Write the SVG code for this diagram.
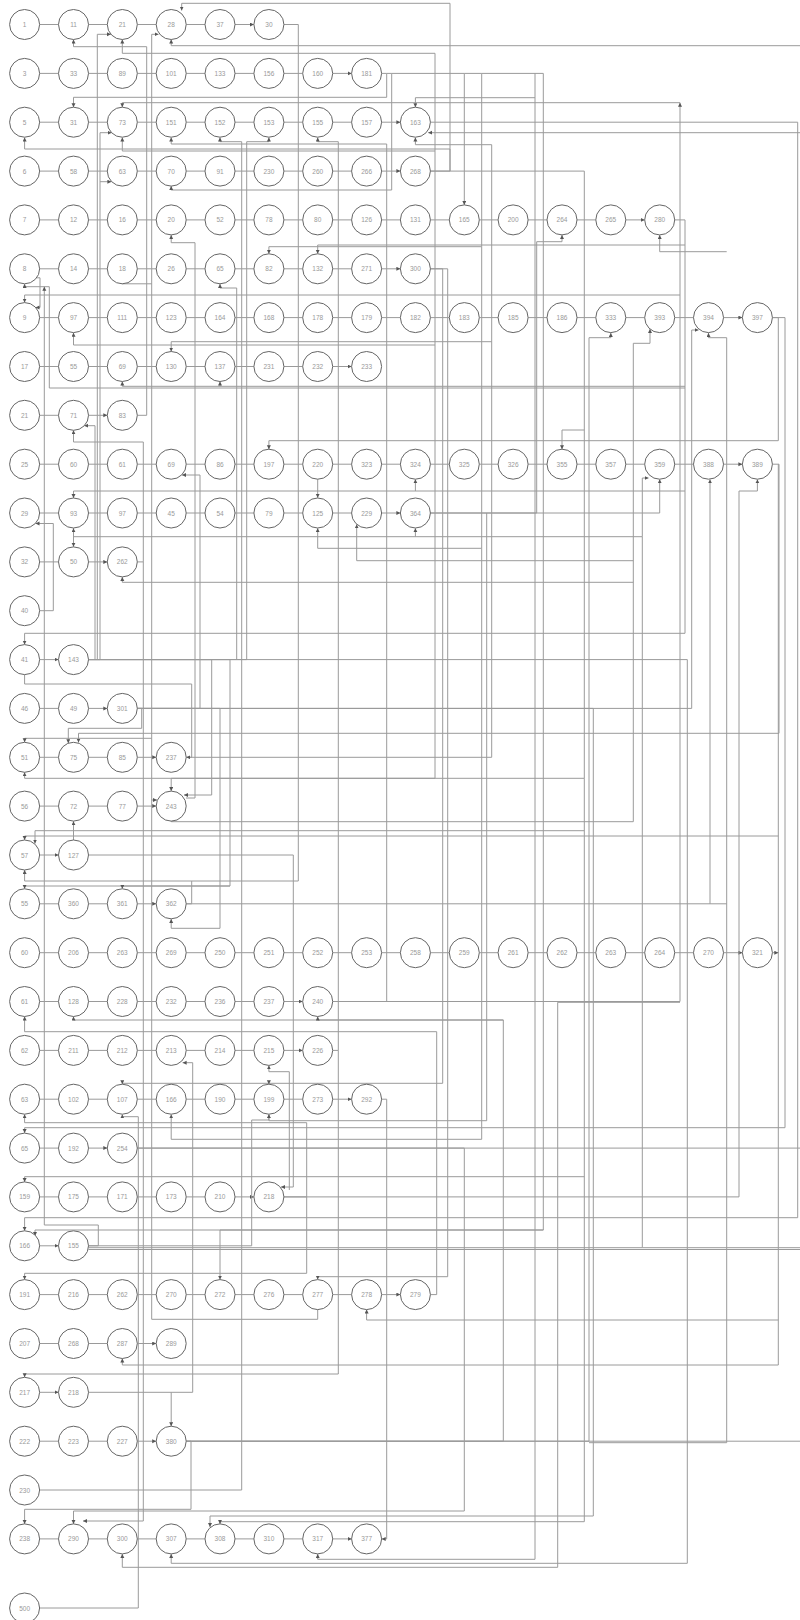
<svg xmlns="http://www.w3.org/2000/svg" width="800" height="1620" viewBox="0 0 800 1620">
<style>
.n circle{fill:#fff;stroke:#666;stroke-width:1}
.n text{font-family:"Liberation Sans",Arial,sans-serif;font-size:6.5px;fill:#999;text-anchor:middle;dominant-baseline:central}
.e path{fill:none;stroke:#9a9a9a;stroke-width:1;marker-end:url(#a)}
.e path.l{marker-end:none}
</style>
<defs><marker id="a" markerWidth="5" markerHeight="5" refX="4" refY="2" orient="auto" markerUnits="userSpaceOnUse"><path d="M0,0 L4,2 L0,4 z" fill="#555"/></marker></defs>
<rect width="800" height="1620" fill="#fff"/>
<g class="e" id="connectors">
<path d="M39.6,24.5H58.5M88.5,24.5H107.3M137.3,24.5H156.2M186.2,24.5H205M235,24.5H253.9"/>
<path d="M39.6,73.4H58.5M88.5,73.4H107.3M137.3,73.4H156.2M186.2,73.4H205M235,73.4H253.9M283.9,73.4H302.7M332.7,73.4H351.6"/>
<path d="M39.6,122.2H58.5M88.5,122.2H107.3M137.3,122.2H156.2M186.2,122.2H205M235,122.2H253.9M283.9,122.2H302.7M332.7,122.2H351.6M381.6,122.2H400.4"/>
<path d="M39.6,171.1H58.5M88.5,171.1H107.3M137.3,171.1H156.2M186.2,171.1H205M235,171.1H253.9M283.9,171.1H302.7M332.7,171.1H351.6M381.6,171.1H400.4"/>
<path d="M39.6,219.9H58.5M88.5,219.9H107.3M137.3,219.9H156.2M186.2,219.9H205M235,219.9H253.9M283.9,219.9H302.7M332.7,219.9H351.6M381.6,219.9H400.4M430.4,219.9H449.3M479.3,219.9H498.1M528.1,219.9H547M577,219.9H595.8M625.8,219.9H644.7"/>
<path d="M39.6,268.8H58.5M88.5,268.8H107.3M137.3,268.8H156.2M186.2,268.8H205M235,268.8H253.9M283.9,268.8H302.7M332.7,268.8H351.6M381.6,268.8H400.4"/>
<path d="M39.6,317.6H58.5M88.5,317.6H107.3M137.3,317.6H156.2M186.2,317.6H205M235,317.6H253.9M283.9,317.6H302.7M332.7,317.6H351.6M381.6,317.6H400.4M430.4,317.6H449.3M479.3,317.6H498.1M528.1,317.6H547M577,317.6H595.8M625.8,317.6H644.7M674.7,317.6H693.5M723.5,317.6H742.4"/>
<path d="M39.6,366.5H58.5M88.5,366.5H107.3M137.3,366.5H156.2M186.2,366.5H205M235,366.5H253.9M283.9,366.5H302.7M332.7,366.5H351.6"/>
<path d="M39.6,415.3H58.5M88.5,415.3H107.3"/>
<path d="M39.6,464.2H58.5M88.5,464.2H107.3M137.3,464.2H156.2M186.2,464.2H205M235,464.2H253.9M283.9,464.2H302.7M332.7,464.2H351.6M381.6,464.2H400.4M430.4,464.2H449.3M479.3,464.2H498.1M528.1,464.2H547M577,464.2H595.8M625.8,464.2H644.7M674.7,464.2H693.5M723.5,464.2H742.4"/>
<path d="M39.6,513H58.5M88.5,513H107.3M137.3,513H156.2M186.2,513H205M235,513H253.9M283.9,513H302.7M332.7,513H351.6M381.6,513H400.4"/>
<path d="M39.6,561.9H58.5M88.5,561.9H107.3"/>
<path d="M39.6,659.6H58.5"/>
<path d="M39.6,708.4H58.5M88.5,708.4H107.3"/>
<path d="M39.6,757.3H58.5M88.5,757.3H107.3M137.3,757.3H156.2"/>
<path d="M39.6,806.1H58.5M88.5,806.1H107.3M137.3,806.1H156.2"/>
<path d="M39.6,855H58.5"/>
<path d="M39.6,903.8H58.5M88.5,903.8H107.3M137.3,903.8H156.2"/>
<path d="M39.6,952.7H58.5M88.5,952.7H107.3M137.3,952.7H156.2M186.2,952.7H205M235,952.7H253.9M283.9,952.7H302.7M332.7,952.7H351.6M381.6,952.7H400.4M430.4,952.7H449.3M479.3,952.7H498.1M528.1,952.7H547M577,952.7H595.8M625.8,952.7H644.7M674.7,952.7H693.5M723.5,952.7H742.4"/>
<path d="M39.6,1001.5H58.5M88.5,1001.5H107.3M137.3,1001.5H156.2M186.2,1001.5H205M235,1001.5H253.9M283.9,1001.5H302.7"/>
<path d="M39.6,1050.4H58.5M88.5,1050.4H107.3M137.3,1050.4H156.2M186.2,1050.4H205M235,1050.4H253.9M283.9,1050.4H302.7"/>
<path d="M39.6,1099.2H58.5M88.5,1099.2H107.3M137.3,1099.2H156.2M186.2,1099.2H205M235,1099.2H253.9M283.9,1099.2H302.7M332.7,1099.2H351.6"/>
<path d="M39.6,1148.1H58.5M88.5,1148.1H107.3"/>
<path d="M39.6,1196.9H58.5M88.5,1196.9H107.3M137.3,1196.9H156.2M186.2,1196.9H205M235,1196.9H253.9"/>
<path d="M39.6,1245.8H58.5"/>
<path d="M39.6,1294.6H58.5M88.5,1294.6H107.3M137.3,1294.6H156.2M186.2,1294.6H205M235,1294.6H253.9M283.9,1294.6H302.7M332.7,1294.6H351.6M381.6,1294.6H400.4"/>
<path d="M39.6,1343.5H58.5M88.5,1343.5H107.3M137.3,1343.5H156.2"/>
<path d="M39.6,1392.3H58.5"/>
<path d="M39.6,1441.2H58.5M88.5,1441.2H107.3M137.3,1441.2H156.2"/>
<path d="M39.6,1538.9H58.5M88.5,1538.9H107.3M137.3,1538.9H156.2M186.2,1538.9H205M235,1538.9H253.9M283.9,1538.9H302.7M332.7,1538.9H351.6"/>
<path d="M430.4,171.1H450V3.3H181.7V10.5"/>
<path d="M450,171.1V149H24.6V137.5"/>
<path d="M283.9,24.5H298.3V881H24.6V870"/>
<path class="l" d="M186.2,903.8H191.7V881"/>
<path d="M137.3,415.3H146.7V46.7H73.5V39.5"/>
<path d="M800,45.7H171.2V39.5"/>
<path d="M435,778.3V53.3H122.3V39.5"/>
<path d="M435,151H122.3V137.5"/>
<path d="M435,345H73.5V332.8"/>
<path d="M435,778.3H171.2V791.1"/>
<path d="M88.5,659.6H97.3V34.3H110.9"/>
<path d="M97.3,659.6H100V132.7H111.6"/>
<path d="M100,181.7H111.4"/>
<path d="M95,659.6V425.7H84.3"/>
<path d="M381.6,73.4H386.7V97.3H73.5V107.2"/>
<path d="M386.7,73.4H391.7V190H171.2V186.1"/>
<path d="M391.7,73.4H464.3V204.9"/>
<path d="M464.3,73.4H481.7V246.7H268.9V253.8"/>
<path d="M481.7,246.7V548.3H317.7V528.2"/>
<path d="M481.7,548.3V1139.3H171.2V1114.4"/>
<path d="M481.7,73.4H543.3V1230H220V1279.6"/>
<path d="M543.3,1230H35V1236"/>
<path d="M535,73.4V1559.3H317.7V1554"/>
<path d="M535,97.7H415.4V107.2"/>
<path d="M430.4,513H536.7V241.7H562V234.9"/>
<path d="M430.4,513H659.7V479.3"/>
<path d="M486.7,513V1120.7H268.9V1114.4"/>
<path d="M430.4,122.2H797.7V1217.7H24.6V1230.8"/>
<path d="M800,132.7H428.2"/>
<path d="M186.2,757.3H491.7V144.7H415.4V137.5"/>
<path d="M491.7,341.7H171.2V351.5"/>
<path d="M332.7,1001.5H386.7V144H171.2V137.5"/>
<path d="M39.6,1490H241.7V141.7H220V137.5"/>
<path d="M88.5,659.6H246.7V141.7H268.9V137.5"/>
<path d="M332.7,1050.4H338.3V141.7H317.7V137.5"/>
<path d="M338.3,1050.4V1374H24.6V1377.3"/>
<path d="M236.7,659.6V288H220V283.9"/>
<path d="M674.7,219.9H685V633.3H24.6V644.6"/>
<path d="M685,388H49.3V286.7H24.6V283.9"/>
<path d="M88.5,1245.8H98.3V1225H44.3V286.7"/>
<path d="M685,386.3H122.3V381.6"/>
<path d="M220,386.3V381.6"/>
<path d="M685,245H317.7V253.8"/>
<path d="M685,491H73.5V498"/>
<path d="M415.4,491V479.3"/>
<path d="M726.7,251.7H659.7V235"/>
<path d="M36.5,277.8H40V307.5H35.5"/>
<path d="M39.6,610.7H53.3V523.5H35.5"/>
<path d="M137.3,561.9H143.3V442H73.5V430.3"/>
<path d="M143.3,561.9V1521H83"/>
<path d="M137.3,708.4H141.7V728.3H68.3V743.2"/>
<path d="M137.3,708.4H200V475H182"/>
<path d="M772.4,464.2H779V733.3H78.5V742.5"/>
<path d="M151.7,738.3H24.6V742.3"/>
<path d="M151.7,800H157"/>
<path d="M186,798H195V242.7H171.2V235.1"/>
<path d="M88.5,659.6H211.7V795H184"/>
<path d="M430.4,171.1H584.3V778.3H24.6V772.3"/>
<path d="M584.3,430H562V449.2"/>
<path d="M584.3,830.7H35V843.5"/>
<path d="M24.6,674.6V684H191.7V757.3H186.3"/>
<path d="M171.2,821.1V821.7H633.3V343.3H650V329"/>
<path d="M633.3,582.3H122.3V577"/>
<path d="M633.3,560.7H356.7V524.4"/>
<path d="M186.2,1441.2H589V337.7H610.8V332.9"/>
<path d="M589,1442.7H726.7V337.7H708.5V332.9"/>
<path d="M137.3,708.4H691.7V330H698.5"/>
<path d="M772.4,317.6H778.3V440.7H268.9V449.2"/>
<path d="M772.4,317.6H785V1127.7H24.6V1133"/>
<path d="M778.3,464.2V1365H122.3V1358.5"/>
<path d="M778.3,1320H366.6V1309.6"/>
<path d="M778.3,836H24.6V840"/>
<path d="M772.4,952.7H778.3"/>
<path d="M381.6,1099.2H386.7V1538.9H381.7"/>
<path d="M186.2,903.8H710V479.4"/>
<path class="l" d="M710,903.8H726.7"/>
<path d="M317.7,479.2V497.8"/>
<path d="M73.5,528V546.8"/>
<path d="M88.5,1247.7H642.3V536.7H73.5V528.2"/>
<path d="M415.4,536.7V528.2"/>
<path d="M642.3,536.7V478H648.5"/>
<path class="l" d="M642.3,1247.7H800M88.5,1249.5H800"/>
<path d="M283.9,1196.9H739V491H757.4V479.4"/>
<path d="M88.5,855H293.3V1187H281"/>
<path d="M289.3,1190V1071.7H268.9V1065.4"/>
<path d="M88.5,659.6H230V886H24.6V888.8"/>
<path d="M230,886H122.3V888.8"/>
<path d="M137.3,708.4H220V928.3H171.2V918.9"/>
<path d="M73.5,840V821.2"/>
<path d="M283.9,1196.9H306.7V1122.7H24.6V1114.3"/>
<path d="M306.7,1196.9V1273.3H24.6V1279.6"/>
<path d="M430.4,268.8H442.7V1083.3H122.3V1084.2"/>
<path d="M268.9,1083.3V1084.2"/>
<path d="M430.4,268.8H447.7V1276.7H317.7V1279.6"/>
<path d="M39.6,1608H138.3V1116.7H122.3V1114.4"/>
<path d="M88.5,1245.8H251.7V1120H268.9V1114.4"/>
<path class="l" d="M137.3,1148.1H800"/>
<path d="M584.3,1176.7H24.6V1182"/>
<path d="M186.2,1441.2H191V1509.3H24.6V1523.9"/>
<path d="M88.5,1392.3H192.7V1062.7H182.6"/>
<path d="M171.2,1392.3V1426.2"/>
<path d="M137.3,1148.1H464.3V1511H73.5V1523.9"/>
<path d="M584.3,778.3V1521.7H220V1523.9"/>
<path d="M137.3,708.4H593.3V1516H210V1527"/>
<path d="M680,102.7H122.3V107.2"/>
<path d="M680,295H24.6V302.6"/>
<path d="M332.7,1001.5H680V102.7"/>
<path d="M680,1002.3H557.7V1567.3H122.3V1554"/>
<path d="M88.5,659.6H687.3V1563.3H171.2V1554"/>
<path d="M430.4,1294.6H436.7V1031.7H24.6V1016.6"/>
<path d="M317.7,1309.6V1319.3H151.7V34.3H158.5"/>
<path d="M151.7,283.8H122.3V283.9"/>
<path d="M186.2,1441.2H503.3V1020H73.5V1016.6"/>
<path d="M503.3,1020H317.7V1016.6"/>
<path class="l" d="M186.2,1441.2H800"/>
</g>
<g class="n" id="n_r0_c0"><circle cx="24.6" cy="24.5" r="15"/><text x="24.6" y="24.5">1</text></g>
<g class="n" id="n_r0_c1"><circle cx="73.5" cy="24.5" r="15"/><text x="73.5" y="24.5">11</text></g>
<g class="n" id="n_r0_c2"><circle cx="122.3" cy="24.5" r="15"/><text x="122.3" y="24.5">21</text></g>
<g class="n" id="n_r0_c3"><circle cx="171.2" cy="24.5" r="15"/><text x="171.2" y="24.5">28</text></g>
<g class="n" id="n_r0_c4"><circle cx="220" cy="24.5" r="15"/><text x="220" y="24.5">37</text></g>
<g class="n" id="n_r0_c5"><circle cx="268.9" cy="24.5" r="15"/><text x="268.9" y="24.5">30</text></g>
<g class="n" id="n_r1_c0"><circle cx="24.6" cy="73.4" r="15"/><text x="24.6" y="73.4">3</text></g>
<g class="n" id="n_r1_c1"><circle cx="73.5" cy="73.4" r="15"/><text x="73.5" y="73.4">33</text></g>
<g class="n" id="n_r1_c2"><circle cx="122.3" cy="73.4" r="15"/><text x="122.3" y="73.4">89</text></g>
<g class="n" id="n_r1_c3"><circle cx="171.2" cy="73.4" r="15"/><text x="171.2" y="73.4">101</text></g>
<g class="n" id="n_r1_c4"><circle cx="220" cy="73.4" r="15"/><text x="220" y="73.4">133</text></g>
<g class="n" id="n_r1_c5"><circle cx="268.9" cy="73.4" r="15"/><text x="268.9" y="73.4">156</text></g>
<g class="n" id="n_r1_c6"><circle cx="317.7" cy="73.4" r="15"/><text x="317.7" y="73.4">160</text></g>
<g class="n" id="n_r1_c7"><circle cx="366.6" cy="73.4" r="15"/><text x="366.6" y="73.4">181</text></g>
<g class="n" id="n_r2_c0"><circle cx="24.6" cy="122.2" r="15"/><text x="24.6" y="122.2">5</text></g>
<g class="n" id="n_r2_c1"><circle cx="73.5" cy="122.2" r="15"/><text x="73.5" y="122.2">31</text></g>
<g class="n" id="n_r2_c2"><circle cx="122.3" cy="122.2" r="15"/><text x="122.3" y="122.2">73</text></g>
<g class="n" id="n_r2_c3"><circle cx="171.2" cy="122.2" r="15"/><text x="171.2" y="122.2">151</text></g>
<g class="n" id="n_r2_c4"><circle cx="220" cy="122.2" r="15"/><text x="220" y="122.2">152</text></g>
<g class="n" id="n_r2_c5"><circle cx="268.9" cy="122.2" r="15"/><text x="268.9" y="122.2">153</text></g>
<g class="n" id="n_r2_c6"><circle cx="317.7" cy="122.2" r="15"/><text x="317.7" y="122.2">155</text></g>
<g class="n" id="n_r2_c7"><circle cx="366.6" cy="122.2" r="15"/><text x="366.6" y="122.2">157</text></g>
<g class="n" id="n_r2_c8"><circle cx="415.4" cy="122.2" r="15"/><text x="415.4" y="122.2">163</text></g>
<g class="n" id="n_r3_c0"><circle cx="24.6" cy="171.1" r="15"/><text x="24.6" y="171.1">6</text></g>
<g class="n" id="n_r3_c1"><circle cx="73.5" cy="171.1" r="15"/><text x="73.5" y="171.1">58</text></g>
<g class="n" id="n_r3_c2"><circle cx="122.3" cy="171.1" r="15"/><text x="122.3" y="171.1">63</text></g>
<g class="n" id="n_r3_c3"><circle cx="171.2" cy="171.1" r="15"/><text x="171.2" y="171.1">70</text></g>
<g class="n" id="n_r3_c4"><circle cx="220" cy="171.1" r="15"/><text x="220" y="171.1">91</text></g>
<g class="n" id="n_r3_c5"><circle cx="268.9" cy="171.1" r="15"/><text x="268.9" y="171.1">230</text></g>
<g class="n" id="n_r3_c6"><circle cx="317.7" cy="171.1" r="15"/><text x="317.7" y="171.1">260</text></g>
<g class="n" id="n_r3_c7"><circle cx="366.6" cy="171.1" r="15"/><text x="366.6" y="171.1">266</text></g>
<g class="n" id="n_r3_c8"><circle cx="415.4" cy="171.1" r="15"/><text x="415.4" y="171.1">268</text></g>
<g class="n" id="n_r4_c0"><circle cx="24.6" cy="219.9" r="15"/><text x="24.6" y="219.9">7</text></g>
<g class="n" id="n_r4_c1"><circle cx="73.5" cy="219.9" r="15"/><text x="73.5" y="219.9">12</text></g>
<g class="n" id="n_r4_c2"><circle cx="122.3" cy="219.9" r="15"/><text x="122.3" y="219.9">16</text></g>
<g class="n" id="n_r4_c3"><circle cx="171.2" cy="219.9" r="15"/><text x="171.2" y="219.9">20</text></g>
<g class="n" id="n_r4_c4"><circle cx="220" cy="219.9" r="15"/><text x="220" y="219.9">52</text></g>
<g class="n" id="n_r4_c5"><circle cx="268.9" cy="219.9" r="15"/><text x="268.9" y="219.9">78</text></g>
<g class="n" id="n_r4_c6"><circle cx="317.7" cy="219.9" r="15"/><text x="317.7" y="219.9">80</text></g>
<g class="n" id="n_r4_c7"><circle cx="366.6" cy="219.9" r="15"/><text x="366.6" y="219.9">126</text></g>
<g class="n" id="n_r4_c8"><circle cx="415.4" cy="219.9" r="15"/><text x="415.4" y="219.9">131</text></g>
<g class="n" id="n_r4_c9"><circle cx="464.3" cy="219.9" r="15"/><text x="464.3" y="219.9">165</text></g>
<g class="n" id="n_r4_c10"><circle cx="513.1" cy="219.9" r="15"/><text x="513.1" y="219.9">200</text></g>
<g class="n" id="n_r4_c11"><circle cx="562" cy="219.9" r="15"/><text x="562" y="219.9">264</text></g>
<g class="n" id="n_r4_c12"><circle cx="610.8" cy="219.9" r="15"/><text x="610.8" y="219.9">265</text></g>
<g class="n" id="n_r4_c13"><circle cx="659.7" cy="219.9" r="15"/><text x="659.7" y="219.9">280</text></g>
<g class="n" id="n_r5_c0"><circle cx="24.6" cy="268.8" r="15"/><text x="24.6" y="268.8">8</text></g>
<g class="n" id="n_r5_c1"><circle cx="73.5" cy="268.8" r="15"/><text x="73.5" y="268.8">14</text></g>
<g class="n" id="n_r5_c2"><circle cx="122.3" cy="268.8" r="15"/><text x="122.3" y="268.8">18</text></g>
<g class="n" id="n_r5_c3"><circle cx="171.2" cy="268.8" r="15"/><text x="171.2" y="268.8">26</text></g>
<g class="n" id="n_r5_c4"><circle cx="220" cy="268.8" r="15"/><text x="220" y="268.8">65</text></g>
<g class="n" id="n_r5_c5"><circle cx="268.9" cy="268.8" r="15"/><text x="268.9" y="268.8">82</text></g>
<g class="n" id="n_r5_c6"><circle cx="317.7" cy="268.8" r="15"/><text x="317.7" y="268.8">132</text></g>
<g class="n" id="n_r5_c7"><circle cx="366.6" cy="268.8" r="15"/><text x="366.6" y="268.8">271</text></g>
<g class="n" id="n_r5_c8"><circle cx="415.4" cy="268.8" r="15"/><text x="415.4" y="268.8">300</text></g>
<g class="n" id="n_r6_c0"><circle cx="24.6" cy="317.6" r="15"/><text x="24.6" y="317.6">9</text></g>
<g class="n" id="n_r6_c1"><circle cx="73.5" cy="317.6" r="15"/><text x="73.5" y="317.6">97</text></g>
<g class="n" id="n_r6_c2"><circle cx="122.3" cy="317.6" r="15"/><text x="122.3" y="317.6">111</text></g>
<g class="n" id="n_r6_c3"><circle cx="171.2" cy="317.6" r="15"/><text x="171.2" y="317.6">123</text></g>
<g class="n" id="n_r6_c4"><circle cx="220" cy="317.6" r="15"/><text x="220" y="317.6">164</text></g>
<g class="n" id="n_r6_c5"><circle cx="268.9" cy="317.6" r="15"/><text x="268.9" y="317.6">168</text></g>
<g class="n" id="n_r6_c6"><circle cx="317.7" cy="317.6" r="15"/><text x="317.7" y="317.6">178</text></g>
<g class="n" id="n_r6_c7"><circle cx="366.6" cy="317.6" r="15"/><text x="366.6" y="317.6">179</text></g>
<g class="n" id="n_r6_c8"><circle cx="415.4" cy="317.6" r="15"/><text x="415.4" y="317.6">182</text></g>
<g class="n" id="n_r6_c9"><circle cx="464.3" cy="317.6" r="15"/><text x="464.3" y="317.6">183</text></g>
<g class="n" id="n_r6_c10"><circle cx="513.1" cy="317.6" r="15"/><text x="513.1" y="317.6">185</text></g>
<g class="n" id="n_r6_c11"><circle cx="562" cy="317.6" r="15"/><text x="562" y="317.6">186</text></g>
<g class="n" id="n_r6_c12"><circle cx="610.8" cy="317.6" r="15"/><text x="610.8" y="317.6">333</text></g>
<g class="n" id="n_r6_c13"><circle cx="659.7" cy="317.6" r="15"/><text x="659.7" y="317.6">393</text></g>
<g class="n" id="n_r6_c14"><circle cx="708.5" cy="317.6" r="15"/><text x="708.5" y="317.6">394</text></g>
<g class="n" id="n_r6_c15"><circle cx="757.4" cy="317.6" r="15"/><text x="757.4" y="317.6">397</text></g>
<g class="n" id="n_r7_c0"><circle cx="24.6" cy="366.5" r="15"/><text x="24.6" y="366.5">17</text></g>
<g class="n" id="n_r7_c1"><circle cx="73.5" cy="366.5" r="15"/><text x="73.5" y="366.5">55</text></g>
<g class="n" id="n_r7_c2"><circle cx="122.3" cy="366.5" r="15"/><text x="122.3" y="366.5">69</text></g>
<g class="n" id="n_r7_c3"><circle cx="171.2" cy="366.5" r="15"/><text x="171.2" y="366.5">130</text></g>
<g class="n" id="n_r7_c4"><circle cx="220" cy="366.5" r="15"/><text x="220" y="366.5">137</text></g>
<g class="n" id="n_r7_c5"><circle cx="268.9" cy="366.5" r="15"/><text x="268.9" y="366.5">231</text></g>
<g class="n" id="n_r7_c6"><circle cx="317.7" cy="366.5" r="15"/><text x="317.7" y="366.5">232</text></g>
<g class="n" id="n_r7_c7"><circle cx="366.6" cy="366.5" r="15"/><text x="366.6" y="366.5">233</text></g>
<g class="n" id="n_r8_c0"><circle cx="24.6" cy="415.3" r="15"/><text x="24.6" y="415.3">21</text></g>
<g class="n" id="n_r8_c1"><circle cx="73.5" cy="415.3" r="15"/><text x="73.5" y="415.3">71</text></g>
<g class="n" id="n_r8_c2"><circle cx="122.3" cy="415.3" r="15"/><text x="122.3" y="415.3">83</text></g>
<g class="n" id="n_r9_c0"><circle cx="24.6" cy="464.2" r="15"/><text x="24.6" y="464.2">25</text></g>
<g class="n" id="n_r9_c1"><circle cx="73.5" cy="464.2" r="15"/><text x="73.5" y="464.2">60</text></g>
<g class="n" id="n_r9_c2"><circle cx="122.3" cy="464.2" r="15"/><text x="122.3" y="464.2">61</text></g>
<g class="n" id="n_r9_c3"><circle cx="171.2" cy="464.2" r="15"/><text x="171.2" y="464.2">69</text></g>
<g class="n" id="n_r9_c4"><circle cx="220" cy="464.2" r="15"/><text x="220" y="464.2">86</text></g>
<g class="n" id="n_r9_c5"><circle cx="268.9" cy="464.2" r="15"/><text x="268.9" y="464.2">197</text></g>
<g class="n" id="n_r9_c6"><circle cx="317.7" cy="464.2" r="15"/><text x="317.7" y="464.2">220</text></g>
<g class="n" id="n_r9_c7"><circle cx="366.6" cy="464.2" r="15"/><text x="366.6" y="464.2">323</text></g>
<g class="n" id="n_r9_c8"><circle cx="415.4" cy="464.2" r="15"/><text x="415.4" y="464.2">324</text></g>
<g class="n" id="n_r9_c9"><circle cx="464.3" cy="464.2" r="15"/><text x="464.3" y="464.2">325</text></g>
<g class="n" id="n_r9_c10"><circle cx="513.1" cy="464.2" r="15"/><text x="513.1" y="464.2">326</text></g>
<g class="n" id="n_r9_c11"><circle cx="562" cy="464.2" r="15"/><text x="562" y="464.2">355</text></g>
<g class="n" id="n_r9_c12"><circle cx="610.8" cy="464.2" r="15"/><text x="610.8" y="464.2">357</text></g>
<g class="n" id="n_r9_c13"><circle cx="659.7" cy="464.2" r="15"/><text x="659.7" y="464.2">359</text></g>
<g class="n" id="n_r9_c14"><circle cx="708.5" cy="464.2" r="15"/><text x="708.5" y="464.2">388</text></g>
<g class="n" id="n_r9_c15"><circle cx="757.4" cy="464.2" r="15"/><text x="757.4" y="464.2">389</text></g>
<g class="n" id="n_r10_c0"><circle cx="24.6" cy="513" r="15"/><text x="24.6" y="513">29</text></g>
<g class="n" id="n_r10_c1"><circle cx="73.5" cy="513" r="15"/><text x="73.5" y="513">93</text></g>
<g class="n" id="n_r10_c2"><circle cx="122.3" cy="513" r="15"/><text x="122.3" y="513">97</text></g>
<g class="n" id="n_r10_c3"><circle cx="171.2" cy="513" r="15"/><text x="171.2" y="513">45</text></g>
<g class="n" id="n_r10_c4"><circle cx="220" cy="513" r="15"/><text x="220" y="513">54</text></g>
<g class="n" id="n_r10_c5"><circle cx="268.9" cy="513" r="15"/><text x="268.9" y="513">79</text></g>
<g class="n" id="n_r10_c6"><circle cx="317.7" cy="513" r="15"/><text x="317.7" y="513">125</text></g>
<g class="n" id="n_r10_c7"><circle cx="366.6" cy="513" r="15"/><text x="366.6" y="513">229</text></g>
<g class="n" id="n_r10_c8"><circle cx="415.4" cy="513" r="15"/><text x="415.4" y="513">364</text></g>
<g class="n" id="n_r11_c0"><circle cx="24.6" cy="561.9" r="15"/><text x="24.6" y="561.9">32</text></g>
<g class="n" id="n_r11_c1"><circle cx="73.5" cy="561.9" r="15"/><text x="73.5" y="561.9">50</text></g>
<g class="n" id="n_r11_c2"><circle cx="122.3" cy="561.9" r="15"/><text x="122.3" y="561.9">262</text></g>
<g class="n" id="n_r12_c0"><circle cx="24.6" cy="610.7" r="15"/><text x="24.6" y="610.7">40</text></g>
<g class="n" id="n_r13_c0"><circle cx="24.6" cy="659.6" r="15"/><text x="24.6" y="659.6">41</text></g>
<g class="n" id="n_r13_c1"><circle cx="73.5" cy="659.6" r="15"/><text x="73.5" y="659.6">143</text></g>
<g class="n" id="n_r14_c0"><circle cx="24.6" cy="708.4" r="15"/><text x="24.6" y="708.4">46</text></g>
<g class="n" id="n_r14_c1"><circle cx="73.5" cy="708.4" r="15"/><text x="73.5" y="708.4">49</text></g>
<g class="n" id="n_r14_c2"><circle cx="122.3" cy="708.4" r="15"/><text x="122.3" y="708.4">301</text></g>
<g class="n" id="n_r15_c0"><circle cx="24.6" cy="757.3" r="15"/><text x="24.6" y="757.3">51</text></g>
<g class="n" id="n_r15_c1"><circle cx="73.5" cy="757.3" r="15"/><text x="73.5" y="757.3">75</text></g>
<g class="n" id="n_r15_c2"><circle cx="122.3" cy="757.3" r="15"/><text x="122.3" y="757.3">85</text></g>
<g class="n" id="n_r15_c3"><circle cx="171.2" cy="757.3" r="15"/><text x="171.2" y="757.3">237</text></g>
<g class="n" id="n_r16_c0"><circle cx="24.6" cy="806.1" r="15"/><text x="24.6" y="806.1">56</text></g>
<g class="n" id="n_r16_c1"><circle cx="73.5" cy="806.1" r="15"/><text x="73.5" y="806.1">72</text></g>
<g class="n" id="n_r16_c2"><circle cx="122.3" cy="806.1" r="15"/><text x="122.3" y="806.1">77</text></g>
<g class="n" id="n_r16_c3"><circle cx="171.2" cy="806.1" r="15"/><text x="171.2" y="806.1">243</text></g>
<g class="n" id="n_r17_c0"><circle cx="24.6" cy="855" r="15"/><text x="24.6" y="855">57</text></g>
<g class="n" id="n_r17_c1"><circle cx="73.5" cy="855" r="15"/><text x="73.5" y="855">127</text></g>
<g class="n" id="n_r18_c0"><circle cx="24.6" cy="903.8" r="15"/><text x="24.6" y="903.8">55</text></g>
<g class="n" id="n_r18_c1"><circle cx="73.5" cy="903.8" r="15"/><text x="73.5" y="903.8">360</text></g>
<g class="n" id="n_r18_c2"><circle cx="122.3" cy="903.8" r="15"/><text x="122.3" y="903.8">361</text></g>
<g class="n" id="n_r18_c3"><circle cx="171.2" cy="903.8" r="15"/><text x="171.2" y="903.8">362</text></g>
<g class="n" id="n_r19_c0"><circle cx="24.6" cy="952.7" r="15"/><text x="24.6" y="952.7">60</text></g>
<g class="n" id="n_r19_c1"><circle cx="73.5" cy="952.7" r="15"/><text x="73.5" y="952.7">206</text></g>
<g class="n" id="n_r19_c2"><circle cx="122.3" cy="952.7" r="15"/><text x="122.3" y="952.7">263</text></g>
<g class="n" id="n_r19_c3"><circle cx="171.2" cy="952.7" r="15"/><text x="171.2" y="952.7">269</text></g>
<g class="n" id="n_r19_c4"><circle cx="220" cy="952.7" r="15"/><text x="220" y="952.7">250</text></g>
<g class="n" id="n_r19_c5"><circle cx="268.9" cy="952.7" r="15"/><text x="268.9" y="952.7">251</text></g>
<g class="n" id="n_r19_c6"><circle cx="317.7" cy="952.7" r="15"/><text x="317.7" y="952.7">252</text></g>
<g class="n" id="n_r19_c7"><circle cx="366.6" cy="952.7" r="15"/><text x="366.6" y="952.7">253</text></g>
<g class="n" id="n_r19_c8"><circle cx="415.4" cy="952.7" r="15"/><text x="415.4" y="952.7">258</text></g>
<g class="n" id="n_r19_c9"><circle cx="464.3" cy="952.7" r="15"/><text x="464.3" y="952.7">259</text></g>
<g class="n" id="n_r19_c10"><circle cx="513.1" cy="952.7" r="15"/><text x="513.1" y="952.7">261</text></g>
<g class="n" id="n_r19_c11"><circle cx="562" cy="952.7" r="15"/><text x="562" y="952.7">262</text></g>
<g class="n" id="n_r19_c12"><circle cx="610.8" cy="952.7" r="15"/><text x="610.8" y="952.7">263</text></g>
<g class="n" id="n_r19_c13"><circle cx="659.7" cy="952.7" r="15"/><text x="659.7" y="952.7">264</text></g>
<g class="n" id="n_r19_c14"><circle cx="708.5" cy="952.7" r="15"/><text x="708.5" y="952.7">270</text></g>
<g class="n" id="n_r19_c15"><circle cx="757.4" cy="952.7" r="15"/><text x="757.4" y="952.7">321</text></g>
<g class="n" id="n_r20_c0"><circle cx="24.6" cy="1001.5" r="15"/><text x="24.6" y="1001.5">61</text></g>
<g class="n" id="n_r20_c1"><circle cx="73.5" cy="1001.5" r="15"/><text x="73.5" y="1001.5">128</text></g>
<g class="n" id="n_r20_c2"><circle cx="122.3" cy="1001.5" r="15"/><text x="122.3" y="1001.5">228</text></g>
<g class="n" id="n_r20_c3"><circle cx="171.2" cy="1001.5" r="15"/><text x="171.2" y="1001.5">232</text></g>
<g class="n" id="n_r20_c4"><circle cx="220" cy="1001.5" r="15"/><text x="220" y="1001.5">236</text></g>
<g class="n" id="n_r20_c5"><circle cx="268.9" cy="1001.5" r="15"/><text x="268.9" y="1001.5">237</text></g>
<g class="n" id="n_r20_c6"><circle cx="317.7" cy="1001.5" r="15"/><text x="317.7" y="1001.5">240</text></g>
<g class="n" id="n_r21_c0"><circle cx="24.6" cy="1050.4" r="15"/><text x="24.6" y="1050.4">62</text></g>
<g class="n" id="n_r21_c1"><circle cx="73.5" cy="1050.4" r="15"/><text x="73.5" y="1050.4">211</text></g>
<g class="n" id="n_r21_c2"><circle cx="122.3" cy="1050.4" r="15"/><text x="122.3" y="1050.4">212</text></g>
<g class="n" id="n_r21_c3"><circle cx="171.2" cy="1050.4" r="15"/><text x="171.2" y="1050.4">213</text></g>
<g class="n" id="n_r21_c4"><circle cx="220" cy="1050.4" r="15"/><text x="220" y="1050.4">214</text></g>
<g class="n" id="n_r21_c5"><circle cx="268.9" cy="1050.4" r="15"/><text x="268.9" y="1050.4">215</text></g>
<g class="n" id="n_r21_c6"><circle cx="317.7" cy="1050.4" r="15"/><text x="317.7" y="1050.4">226</text></g>
<g class="n" id="n_r22_c0"><circle cx="24.6" cy="1099.2" r="15"/><text x="24.6" y="1099.2">63</text></g>
<g class="n" id="n_r22_c1"><circle cx="73.5" cy="1099.2" r="15"/><text x="73.5" y="1099.2">102</text></g>
<g class="n" id="n_r22_c2"><circle cx="122.3" cy="1099.2" r="15"/><text x="122.3" y="1099.2">107</text></g>
<g class="n" id="n_r22_c3"><circle cx="171.2" cy="1099.2" r="15"/><text x="171.2" y="1099.2">166</text></g>
<g class="n" id="n_r22_c4"><circle cx="220" cy="1099.2" r="15"/><text x="220" y="1099.2">190</text></g>
<g class="n" id="n_r22_c5"><circle cx="268.9" cy="1099.2" r="15"/><text x="268.9" y="1099.2">199</text></g>
<g class="n" id="n_r22_c6"><circle cx="317.7" cy="1099.2" r="15"/><text x="317.7" y="1099.2">273</text></g>
<g class="n" id="n_r22_c7"><circle cx="366.6" cy="1099.2" r="15"/><text x="366.6" y="1099.2">292</text></g>
<g class="n" id="n_r23_c0"><circle cx="24.6" cy="1148.1" r="15"/><text x="24.6" y="1148.1">65</text></g>
<g class="n" id="n_r23_c1"><circle cx="73.5" cy="1148.1" r="15"/><text x="73.5" y="1148.1">192</text></g>
<g class="n" id="n_r23_c2"><circle cx="122.3" cy="1148.1" r="15"/><text x="122.3" y="1148.1">254</text></g>
<g class="n" id="n_r24_c0"><circle cx="24.6" cy="1196.9" r="15"/><text x="24.6" y="1196.9">159</text></g>
<g class="n" id="n_r24_c1"><circle cx="73.5" cy="1196.9" r="15"/><text x="73.5" y="1196.9">175</text></g>
<g class="n" id="n_r24_c2"><circle cx="122.3" cy="1196.9" r="15"/><text x="122.3" y="1196.9">171</text></g>
<g class="n" id="n_r24_c3"><circle cx="171.2" cy="1196.9" r="15"/><text x="171.2" y="1196.9">173</text></g>
<g class="n" id="n_r24_c4"><circle cx="220" cy="1196.9" r="15"/><text x="220" y="1196.9">210</text></g>
<g class="n" id="n_r24_c5"><circle cx="268.9" cy="1196.9" r="15"/><text x="268.9" y="1196.9">218</text></g>
<g class="n" id="n_r25_c0"><circle cx="24.6" cy="1245.8" r="15"/><text x="24.6" y="1245.8">166</text></g>
<g class="n" id="n_r25_c1"><circle cx="73.5" cy="1245.8" r="15"/><text x="73.5" y="1245.8">155</text></g>
<g class="n" id="n_r26_c0"><circle cx="24.6" cy="1294.6" r="15"/><text x="24.6" y="1294.6">191</text></g>
<g class="n" id="n_r26_c1"><circle cx="73.5" cy="1294.6" r="15"/><text x="73.5" y="1294.6">216</text></g>
<g class="n" id="n_r26_c2"><circle cx="122.3" cy="1294.6" r="15"/><text x="122.3" y="1294.6">262</text></g>
<g class="n" id="n_r26_c3"><circle cx="171.2" cy="1294.6" r="15"/><text x="171.2" y="1294.6">270</text></g>
<g class="n" id="n_r26_c4"><circle cx="220" cy="1294.6" r="15"/><text x="220" y="1294.6">272</text></g>
<g class="n" id="n_r26_c5"><circle cx="268.9" cy="1294.6" r="15"/><text x="268.9" y="1294.6">276</text></g>
<g class="n" id="n_r26_c6"><circle cx="317.7" cy="1294.6" r="15"/><text x="317.7" y="1294.6">277</text></g>
<g class="n" id="n_r26_c7"><circle cx="366.6" cy="1294.6" r="15"/><text x="366.6" y="1294.6">278</text></g>
<g class="n" id="n_r26_c8"><circle cx="415.4" cy="1294.6" r="15"/><text x="415.4" y="1294.6">279</text></g>
<g class="n" id="n_r27_c0"><circle cx="24.6" cy="1343.5" r="15"/><text x="24.6" y="1343.5">207</text></g>
<g class="n" id="n_r27_c1"><circle cx="73.5" cy="1343.5" r="15"/><text x="73.5" y="1343.5">268</text></g>
<g class="n" id="n_r27_c2"><circle cx="122.3" cy="1343.5" r="15"/><text x="122.3" y="1343.5">287</text></g>
<g class="n" id="n_r27_c3"><circle cx="171.2" cy="1343.5" r="15"/><text x="171.2" y="1343.5">289</text></g>
<g class="n" id="n_r28_c0"><circle cx="24.6" cy="1392.3" r="15"/><text x="24.6" y="1392.3">217</text></g>
<g class="n" id="n_r28_c1"><circle cx="73.5" cy="1392.3" r="15"/><text x="73.5" y="1392.3">218</text></g>
<g class="n" id="n_r29_c0"><circle cx="24.6" cy="1441.2" r="15"/><text x="24.6" y="1441.2">222</text></g>
<g class="n" id="n_r29_c1"><circle cx="73.5" cy="1441.2" r="15"/><text x="73.5" y="1441.2">223</text></g>
<g class="n" id="n_r29_c2"><circle cx="122.3" cy="1441.2" r="15"/><text x="122.3" y="1441.2">227</text></g>
<g class="n" id="n_r29_c3"><circle cx="171.2" cy="1441.2" r="15"/><text x="171.2" y="1441.2">380</text></g>
<g class="n" id="n_r30_c0"><circle cx="24.6" cy="1490" r="15"/><text x="24.6" y="1490">230</text></g>
<g class="n" id="n_r31_c0"><circle cx="24.6" cy="1538.9" r="15"/><text x="24.6" y="1538.9">238</text></g>
<g class="n" id="n_r31_c1"><circle cx="73.5" cy="1538.9" r="15"/><text x="73.5" y="1538.9">290</text></g>
<g class="n" id="n_r31_c2"><circle cx="122.3" cy="1538.9" r="15"/><text x="122.3" y="1538.9">300</text></g>
<g class="n" id="n_r31_c3"><circle cx="171.2" cy="1538.9" r="15"/><text x="171.2" y="1538.9">307</text></g>
<g class="n" id="n_r31_c4"><circle cx="220" cy="1538.9" r="15"/><text x="220" y="1538.9">308</text></g>
<g class="n" id="n_r31_c5"><circle cx="268.9" cy="1538.9" r="15"/><text x="268.9" y="1538.9">310</text></g>
<g class="n" id="n_r31_c6"><circle cx="317.7" cy="1538.9" r="15"/><text x="317.7" y="1538.9">317</text></g>
<g class="n" id="n_r31_c7"><circle cx="366.6" cy="1538.9" r="15"/><text x="366.6" y="1538.9">377</text></g>
<g class="n" id="n_r32_c0"><circle cx="24.6" cy="1608" r="15"/><text x="24.6" y="1608">500</text></g>
</svg>
